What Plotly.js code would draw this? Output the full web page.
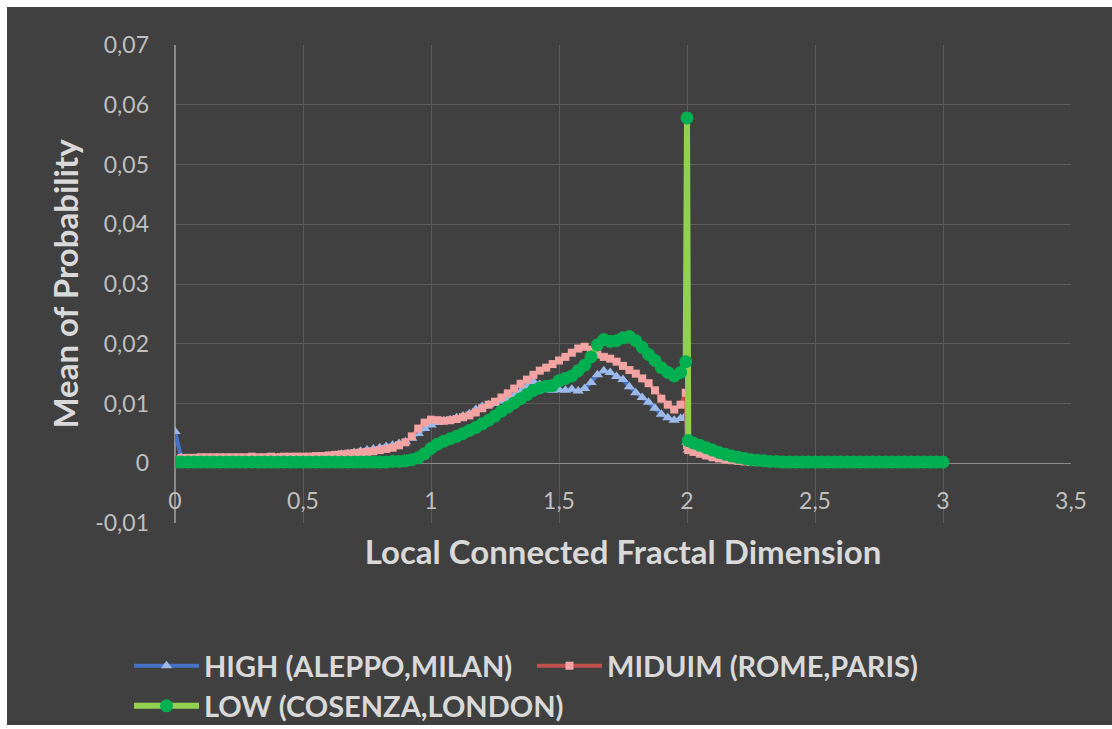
<!DOCTYPE html>
<html><head><meta charset="utf-8">
<script src="https://cdn.plot.ly/plotly-3.0.1.min.js"></script>
<style>
html,body{margin:0;padding:0;background:#ffffff;width:1112px;height:729px;overflow:hidden}
#chart{position:absolute;left:7px;top:7px;width:1105px;height:718px}
</style>
</head><body><div id="chart"></div>
<script>
const xValues = [
  0,0.025,0.05,0.075,0.1,0.125,0.15,0.175,0.2,0.225,
  0.25,0.275,0.3,0.325,0.35,0.375,0.4,0.425,0.45,0.475,
  0.5,0.525,0.55,0.575,0.6,0.625,0.65,0.675,0.7,0.725,
  0.75,0.775,0.8,0.825,0.85,0.875,0.9,0.925,0.95,0.975,
  1,1.025,1.05,1.075,1.1,1.125,1.15,1.175,1.2,1.225,
  1.25,1.275,1.3,1.325,1.35,1.375,1.4,1.425,1.45,1.475,
  1.5,1.525,1.55,1.575,1.6,1.625,1.65,1.675,1.7,1.725,
  1.75,1.775,1.8,1.825,1.85,1.875,1.9,1.925,1.95,1.975,
  1.995,2,2.005,
  2.025,2.05,2.075,2.1,2.125,2.15,2.175,2.2,2.225,2.25,
  2.275,2.3,2.325,2.35,2.375,2.4,2.425,2.45,2.475,2.5,
  2.525,2.55,2.575,2.6,2.625,2.65,2.675,2.7,2.725,2.75,
  2.775,2.8,2.825,2.85,2.875,2.9,2.925,2.95,2.975,3
];
const highValues = [
  0.0053,0.0009,0.0008,0.0008,0.0008,0.0008,0.0008,0.0008,0.0008,0.0008,
  0.0008,0.0008,0.0009,0.0008,0.0008,0.0009,0.0009,0.0008,0.0009,0.0009,
  0.0009,0.001,0.001,0.0011,0.0012,0.0013,0.0015,0.0016,0.0018,0.002,
  0.0022,0.0024,0.0026,0.0028,0.003,0.0033,0.0036,0.0042,0.005,0.0058,
  0.0064,0.0068,0.0071,0.0073,0.0076,0.0079,0.0083,0.009,0.0095,0.0098,
  0.01,0.0104,0.0108,0.0113,0.012,0.0128,0.0137,0.0132,0.0125,0.0122,
  0.0123,0.0122,0.0124,0.0121,0.0125,0.0135,0.0148,0.0155,0.0152,0.0145,
  0.014,0.0128,0.0118,0.011,0.0102,0.0092,0.0082,0.0076,0.0072,0.0075,
  0.008,0.0035,0.0022,
  0.002,0.0017,0.0014,0.0011,0.0009,0.0007,0.0005,0.0004,0.0003,0.0002,
  0.0002,0.0002,0.0002,0.0002,0.0001,0.0001,0.0001,0.0001,0.0001,0.0001,
  0.0001,0.0001,0.0001,0.0001,0.0001,0.0001,0.0001,0.0001,0.0001,0.0001,
  0.0001,0.0001,0.0001,0.0001,0.0001,0.0001,0.0001,0.0001,0.0001,0.0001
];
const mediumValues = [
  0.0006,0.0009,0.0009,0.0009,0.001,0.001,0.001,0.001,0.001,0.001,
  0.001,0.001,0.0011,0.001,0.001,0.0011,0.001,0.0011,0.0011,0.0011,
  0.0011,0.0011,0.0012,0.0012,0.0013,0.0014,0.0015,0.0016,0.0017,0.0018,
  0.0019,0.002,0.0022,0.0024,0.0026,0.003,0.0035,0.0045,0.0058,0.0068,
  0.0073,0.0072,0.0071,0.0072,0.0074,0.0077,0.008,0.0085,0.0092,0.0098,
  0.0103,0.011,0.0117,0.0125,0.0133,0.014,0.0148,0.0155,0.016,0.0166,
  0.0172,0.0178,0.0185,0.0192,0.0195,0.019,0.0182,0.0178,0.0175,0.017,
  0.0163,0.0156,0.015,0.0142,0.0134,0.0122,0.0108,0.0098,0.009,0.0098,
  0.0118,0.003,0.0022,
  0.0019,0.0016,0.0013,0.001,0.0008,0.0006,0.0005,0.0004,0.0003,0.0002,
  0.0002,0.0002,0.0002,0.0002,0.0002,0.0001,0.0001,0.0001,0.0001,0.0001,
  0.0001,0.0001,0.0001,0.0001,0.0001,0.0001,0.0001,0.0001,0.0001,0.0001,
  0.0001,0.0001,0.0001,0.0001,0.0001,0.0001,0.0001,0.0001,0.0001,0.0001
];
const lowValues = [
  0.0002,0.0002,0.0002,0.0002,0.0002,0.0002,0.0002,0.0002,0.0002,0.0002,
  0.0002,0.0002,0.0002,0.0002,0.0002,0.0002,0.0002,0.0002,0.0002,0.0002,
  0.0002,0.0002,0.0002,0.0002,0.0002,0.0002,0.0002,0.0002,0.0002,0.0002,
  0.0002,0.0002,0.0002,0.0002,0.0003,0.0003,0.0004,0.0006,0.0009,0.0016,
  0.0025,0.0032,0.0037,0.0041,0.0045,0.005,0.0055,0.006,0.0066,0.0072,
  0.0079,0.0087,0.0094,0.0101,0.0108,0.0115,0.0122,0.0126,0.0129,0.013,
  0.0138,0.0142,0.0146,0.0155,0.0164,0.0178,0.0198,0.0207,0.0204,0.0205,
  0.021,0.0212,0.0205,0.0194,0.0182,0.0172,0.016,0.0152,0.0146,0.0152,
  0.017,0.0578,0.0038,
  0.0034,0.003,0.0026,0.0022,0.0018,0.0015,0.0012,0.001,0.0008,0.0006,
  0.0005,0.0004,0.0003,0.0003,0.0002,0.0002,0.0002,0.0002,0.0002,0.0002,
  0.0002,0.0002,0.0002,0.0002,0.0002,0.0002,0.0002,0.0002,0.0002,0.0002,
  0.0002,0.0002,0.0002,0.0002,0.0002,0.0002,0.0002,0.0002,0.0002,0.0002
];
const seriesNames = ['HIGH (ALEPPO,MILAN)', 'MIDUIM (ROME,PARIS)', 'LOW (COSENZA,LONDON)'];
const xTickVals = [0, 0.5, 1, 1.5, 2, 2.5, 3, 3.5];
const xTickText = ['0', '0,5', '1', '1,5', '2', '2,5', '3', '3,5'];
const yTickVals = [-0.01, 0, 0.01, 0.02, 0.03, 0.04, 0.05, 0.06, 0.07];
const yTickText = ['-0,01', '0', '0,01', '0,02', '0,03', '0,04', '0,05', '0,06', '0,07'];

const FONT = 'Lato, "Open Sans", "DejaVu Sans", sans-serif';

const traces = [
  {
    x: xValues, y: highValues, name: seriesNames[0], type: 'scatter', mode: 'lines+markers',
    line: {color: '#4472C4', width: 4},
    marker: {symbol: 'triangle-up', size: 10, color: '#9DB9E8'},
    legend: 'legend'
  },
  {
    x: xValues, y: mediumValues, name: seriesNames[1], type: 'scatter', mode: 'lines+markers',
    line: {color: '#C0504D', width: 4},
    marker: {symbol: 'square', size: 8, color: '#F4A3A3'},
    legend: 'legend3'
  },
  {
    x: xValues, y: lowValues, name: seriesNames[2], type: 'scatter', mode: 'lines+markers',
    line: {color: '#92D050', width: 6},
    marker: {symbol: 'circle', size: 13, color: '#00B050'},
    legend: 'legend2'
  }
];

function legendBox(x, y) {
  return {
    orientation: 'h', xref: 'container', yref: 'container',
    x: x, xanchor: 'left', y: y, yanchor: 'middle',
    itemwidth: 65, bgcolor: 'rgba(0,0,0,0)',
    font: {family: FONT, size: 29, color: '#d9d9d9', weight: 'bold'}
  };
}

const layout = {
  width: 1105, height: 718,
  paper_bgcolor: '#404040', plot_bgcolor: '#404040',
  margin: {l: 168, r: 41, t: 38, b: 202},
  font: {family: FONT, color: '#bfbfbf', size: 20},
  showlegend: true,
  xaxis: {
    range: [0, 3.5], tickvals: xTickVals, ticktext: xTickText,
    showgrid: true, gridcolor: '#5c5c5c', gridwidth: 1,
    zeroline: true, zerolinecolor: '#8a8a8a', zerolinewidth: 1.5,
    showline: false, ticks: '',
    ticklabelposition: 'inside', ticklabeloverflow: 'allow', ticklabelstandoff: 6,
    tickfont: {family: FONT, size: 23, color: '#bfbfbf'},
    title: {text: 'Local Connected Fractal Dimension', standoff: 27,
            font: {family: FONT, size: 33, color: '#d9d9d9', weight: 'bold'}},
    automargin: false, fixedrange: true
  },
  yaxis: {
    range: [-0.01, 0.07], tickvals: yTickVals, ticktext: yTickText,
    showgrid: true, gridcolor: '#5c5c5c', gridwidth: 1,
    zeroline: true, zerolinecolor: '#8a8a8a', zerolinewidth: 1.5,
    showline: false, ticks: '', ticklabelstandoff: 25,
    tickfont: {family: FONT, size: 23, color: '#bfbfbf'},
    title: {text: 'Mean of Probability', standoff: 6,
            font: {family: FONT, size: 33, color: '#d9d9d9', weight: 'bold'}},
    automargin: false, fixedrange: true
  },
  legend: legendBox(0.1104, 0.0822),
  legend3: legendBox(0.4751, 0.0822),
  legend2: legendBox(0.1104, 0.0265)
};

Plotly.newPlot('chart', traces, layout, {displayModeBar: false, staticPlot: true});
</script>
</body></html>
